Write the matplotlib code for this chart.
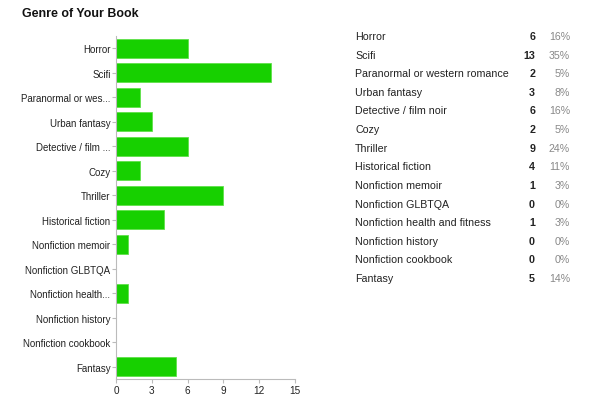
import matplotlib
matplotlib.use("Agg")
import matplotlib.pyplot as plt

categories = ["Horror", "Scifi", "Paranormal or western romance", "Urban fantasy",
              "Detective / film noir", "Cozy", "Thriller", "Historical fiction",
              "Nonfiction memoir", "Nonfiction GLBTQA", "Nonfiction health and fitness",
              "Nonfiction history", "Nonfiction cookbook", "Fantasy"]
axis_labels = ["Horror", "Scifi", "Paranormal or wes...", "Urban fantasy",
               "Detective / film ...", "Cozy", "Thriller", "Historical fiction",
               "Nonfiction memoir", "Nonfiction GLBTQA", "Nonfiction health...",
               "Nonfiction history", "Nonfiction cookbook", "Fantasy"]
counts = [6, 13, 2, 3, 6, 2, 9, 4, 1, 0, 1, 0, 0, 5]
percents = ["16%", "35%", "5%", "8%", "16%", "5%", "24%", "11%", "3%", "0%", "3%", "0%", "0%", "14%"]
xticks = [0, 3, 6, 9, 12, 15]

plt.rcParams['font.family'] = ['Liberation Sans', 'DejaVu Sans']

fig = plt.figure(figsize=(5.95, 4.06), dpi=100)
ax = fig.add_axes([116/595, 1 - 380/406, 179/595, 343/406])

y = list(range(len(categories)))
ax.barh(y, counts, height=0.78, color='#17d000', edgecolor='#5fe04a', linewidth=0.6)
ax.set_ylim(len(categories) - 0.5, -0.5)
ax.set_xlim(0, 15)
ax.set_xticks(xticks)
ax.set_xticklabels([str(t) for t in xticks], fontsize=7.2, color='#222222')
ax.set_yticks(y)
ax.set_yticklabels(axis_labels, fontsize=7.0, color='#222222')
for s in ['top', 'right']:
    ax.spines[s].set_visible(False)
for s in ['left', 'bottom']:
    ax.spines[s].set_color('#bbbbbb')
    ax.spines[s].set_linewidth(0.8)
ax.tick_params(axis='y', color='#bbbbbb', length=3, width=0.8, pad=1)
ax.tick_params(axis='x', color='#bbbbbb', length=3, width=0.8, pad=1.5)

fig.text(22/595, 1 - 14/406, "Genre of Your Book", fontsize=8.9, fontweight='bold',
         va='center', ha='left', color='#111111')

row0 = 37
step = (279 - 37) / 13
for i, (c, n, p) in enumerate(zip(categories, counts, percents)):
    yy = 1 - (row0 + i * step) / 406
    fig.text(355/595, yy, c, fontsize=7.65, va='center', ha='left', color='#222222')
    fig.text(535/595, yy, str(n), fontsize=7.65, va='center', ha='right',
             fontweight='bold', color='#222222')
    fig.text(570/595, yy, p, fontsize=7.65, va='center', ha='right', color='#888888')

fig.savefig("out.png", dpi=100)
